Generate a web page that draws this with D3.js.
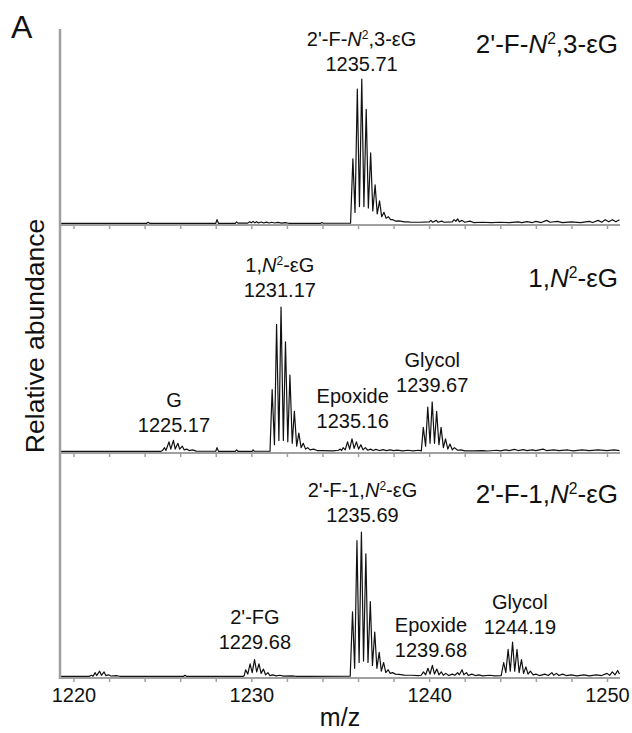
<!DOCTYPE html>
<html><head><meta charset="utf-8">
<script src="https://cdn.jsdelivr.net/npm/d3@7"></script>
<style>body{margin:0;background:#fff}svg{display:block;font-family:"Liberation Sans",Arial,sans-serif}</style>
</head><body><svg id="c" width="632" height="733"></svg>
<script>
// ---- data (m/z, relative intensity; 100 = tallest peak in each panel) ----
const panelNames = ["2'-F-N2,3-εG", "1,N2-εG", "2'-F-1,N2-εG"];
const topSpectrum = [[1219.3,0.4],[1224.1,0.4],[1224.2,1.2],[1224.3,0.4],[1228.0,0.4],[1228.07,3],[1228.15,0.5],[1229.1,0.5],[1229.17,1.5],[1229.25,0.6],[1229.8,0.6],[1229.9,1.5],[1230.0,0.8],[1230.1,1.8],[1230.2,0.8],[1230.3,1.6],[1230.4,0.7],[1230.55,1.4],[1230.7,0.7],[1230.85,1.3],[1231.0,0.7],[1231.15,1.2],[1231.3,0.7],[1231.5,1.1],[1231.7,0.6],[1231.9,1],[1232.1,0.5],[1233.9,0.5],[1233.97,1],[1234.05,0.5],[1235.58,0.6],
[1235.71,45],[1235.83,8],[1235.96,93],[1236.08,12],[1236.21,100],[1236.33,12],[1236.46,79],[1236.58,11],[1236.71,49],[1236.83,9],[1236.96,27],[1237.08,7],[1237.21,16],[1237.33,5],[1237.46,8],[1237.58,4],[1237.71,5],[1237.83,3],[1237.96,3],[1238.1,2],[1238.3,2.2],[1238.6,1.5],
[1238.8,1.5],[1239.0,1.2],[1239.5,1.2],[1240.0,1.4],[1240.1,2.5],[1240.2,1.2],[1240.4,2.5],[1240.5,1.2],[1240.7,2],[1240.85,1.2],[1241.3,1.5],[1241.4,3],[1241.5,1.8],[1241.6,3.5],[1241.7,1.5],[1241.85,2.5],[1242.0,1.2],[1242.3,2],[1242.5,1],[1243,1.2],[1243.5,0.9],[1244,1.2],[1244.5,1],[1245,1.5],[1245.2,0.9],[1245.5,1.6],[1245.8,1],[1246,1.8],[1246.3,1],[1246.6,2.5],[1246.8,1.2],[1247.2,1.8],[1247.5,1],[1248,1.5],[1248.5,1],[1249,1.8],[1249.2,1],[1249.5,2.5],[1249.7,1.2],[1249.9,3],[1250.1,1.5],[1250.3,3],[1250.5,1.5],[1250.7,3]];
const midSpectrum = [[1219.3,0.4],[1224.9,0.4],[1225.0,1],[1225.12,3],[1225.2,1],[1225.37,7],[1225.47,2],[1225.62,8],[1225.72,2],[1225.87,6],[1225.97,2],[1226.12,4],[1226.22,1.5],[1226.37,2],[1226.5,1],[1226.7,1.5],[1226.9,0.6],[1228.0,0.5],[1228.07,3],[1228.15,0.5],[1229.1,0.5],[1229.17,1.5],[1229.25,0.5],[1230.05,0.5],[1230.1,1.5],[1230.17,0.5],[1231.05,0.6],
[1231.17,43],[1231.3,5],[1231.42,88],[1231.55,8],[1231.67,100],[1231.8,8],[1231.92,76],[1232.05,7],[1232.17,53],[1232.3,6],[1232.42,28],[1232.55,4],[1232.67,13],[1232.8,3],[1232.92,6],[1233.05,2],[1233.17,3],[1233.3,1.5],[1233.5,2],[1233.7,1],[1234.0,1],[1234.6,0.8],
[1234.9,1.2],[1235.0,2],[1235.08,1],[1235.16,3],[1235.28,1.5],[1235.41,7],[1235.53,2],[1235.66,9],[1235.78,2.5],[1235.91,7],[1236.03,2],[1236.16,5],[1236.28,1.5],[1236.41,3],[1236.55,1.2],[1236.7,2],[1236.85,1],[1237.0,1.8],[1237.2,1],[1237.4,1.6],[1237.6,0.9],[1237.8,1.5],[1238.0,0.9],[1238.2,1.3],[1238.5,0.8],[1238.8,1.2],[1239.1,0.8],[1239.4,1.2],[1239.56,0.8],
[1239.67,17],[1239.8,4],[1239.92,31],[1240.05,6],[1240.17,34.5],[1240.3,6],[1240.42,28],[1240.55,5],[1240.67,17],[1240.8,3],[1240.92,9],[1241.05,2],[1241.17,5.5],[1241.3,1.5],[1241.42,3],[1241.6,1.2],[1241.8,1.5],[1242,0.8],[1242.5,0.8],[1243,1],[1243.3,0.7],[1243.8,1.2],[1244.0,0.8],[1244.3,1.5],[1244.5,0.9],[1244.8,1.8],[1245.0,1],[1245.3,1.6],[1245.5,0.9],[1245.8,1.5],[1246,0.9],[1246.4,2],[1246.6,1],[1247,1.5],[1247.3,0.9],[1247.8,1.4],[1248.1,0.8],[1248.6,1.4],[1249,0.9],[1249.5,1.4],[1250,0.9],[1250.4,1.5],[1250.7,1]];
const botSpectrum = [[1219.3,0.4],[1220.9,0.5],[1221.0,1.2],[1221.1,0.6],[1221.22,3],[1221.3,1],[1221.47,4],[1221.57,1.2],[1221.72,3.5],[1221.82,1],[1221.97,1.5],[1222.1,0.7],[1222.4,1],[1222.6,0.5],[1226.2,0.5],[1226.27,1.2],[1226.35,0.5],[1229.55,0.5],
[1229.6,1],[1229.68,5],[1229.8,2],[1229.93,9],[1230.05,3],[1230.18,12],[1230.3,3.5],[1230.43,9],[1230.55,2.5],[1230.68,5.5],[1230.8,1.5],[1230.93,3],[1231.05,1],[1231.2,1.5],[1231.4,0.8],[1231.6,1.2],[1231.8,0.6],[1232.3,0.8],[1232.5,0.5],[1233,0.5],[1235.56,0.6],
[1235.69,45],[1235.81,6],[1235.94,94],[1236.06,10],[1236.19,100],[1236.31,11],[1236.44,85],[1236.56,10],[1236.69,52],[1236.81,8],[1236.94,31],[1237.06,6],[1237.19,17],[1237.31,4],[1237.44,10],[1237.56,3],[1237.69,5],[1237.81,2.5],[1237.94,3],[1238.1,2],[1238.3,1.8],[1238.6,1.3],[1239.0,1.2],[1239.4,1],[1239.55,1.2],
[1239.68,3.5],[1239.8,1.5],[1239.93,6],[1240.05,2],[1240.18,8],[1240.3,2],[1240.43,5.5],[1240.55,1.5],[1240.68,3.5],[1240.8,1.2],[1240.93,2.5],[1241.1,1],[1241.3,2],[1241.45,1.2],[1241.6,3],[1241.7,1.5],[1241.85,5],[1241.95,1.5],[1242.1,3],[1242.2,1],[1242.4,2],[1242.6,1],[1242.8,1.5],[1243.0,0.8],[1243.4,1.2],[1243.7,0.8],[1244.05,1],
[1244.19,10],[1244.31,3],[1244.44,19],[1244.56,4],[1244.69,24],[1244.81,4],[1244.94,19],[1245.06,3],[1245.19,12],[1245.31,2.5],[1245.44,7],[1245.56,2],[1245.69,4],[1245.85,1.5],[1246.0,2],[1246.2,1],[1246.5,2],[1246.7,1],[1246.9,3],[1247.0,1.2],[1247.15,2.5],[1247.3,1],[1247.5,2],[1247.7,1],[1248,1.5],[1248.3,0.8],[1248.7,1.5],[1249,0.8],[1249.4,1.5],[1249.7,1],[1250.0,2.5],[1250.15,1.2],[1250.3,3.5],[1250.45,1.5],[1250.6,4.5],[1250.7,2]];
const spectra = [topSpectrum, midSpectrum, botSpectrum];
// peak annotations
const peakNames  = [["2'-F-N2,3-εG"], ["G","1,N2-εG","Epoxide","Glycol"], ["2'-FG","2'-F-1,N2-εG","Epoxide","Glycol"]];
const peakMasses = [["1235.71"], ["1225.17","1231.17","1235.16","1239.67"], ["1229.68","1235.69","1239.68","1244.19"]];
const peakLabelX = [[1236.2], [1225.65,1231.6,1235.7,1240.17], [1230.2,1236.25,1240.1,1245.1]];
const peakLabelY = [[105.5], [13.8,107,16.6,41.4], [19.3,107,13.8,29.7]];
const xTicks = d3.range(1220, 1251, 2);
const xTickLabels = [1220, 1230, 1240, 1250];

// ---- layout ----
const svg = d3.select("#c");
const x = d3.scaleLinear().domain([1220, 1250]).range([73.5, 607]);
const axisLeftX = 60, axisRightX = 620;
const baselines = [224, 452, 677];
const titleY = [53, 287, 503];
const ys = baselines.map(b => d3.scaleLinear().domain([0, 100]).range([b, b - 145]));

function richText(sel, str) {
  const parts = str.split("N2");
  sel.append("tspan").text(parts[0]);
  if (parts.length > 1) {
    sel.append("tspan").attr("font-style", "italic").text("N");
    sel.append("tspan").attr("font-size", "0.6em").attr("dy", "-0.55em").text("2");
    sel.append("tspan").attr("dy", "0.33em").text(parts[1]);
  }
}

spectra.forEach((data, i) => {
  const g = svg.append("g");
  g.append("line").attr("x1", axisLeftX).attr("x2", axisRightX)
    .attr("y1", baselines[i] + 1).attr("y2", baselines[i] + 1)
    .attr("stroke", "#a0a0a0").attr("stroke-width", 2.2);
  const ax = g.append("g").attr("transform", `translate(0,${baselines[i] + 2})`)
    .call(d3.axisBottom(x).tickValues(xTicks).tickSize(3).tickFormat(""));
  ax.select(".domain").remove();
  ax.selectAll(".tick line").attr("stroke", "#a0a0a0").attr("stroke-width", 1.5);
  const line = d3.line().x(d => x(d[0])).y(d => ys[i](d[1]));
  g.append("path").datum(data).attr("d", line)
    .attr("fill", "none").attr("stroke", "#111").attr("stroke-width", 1.2).attr("stroke-linejoin", "round");
  const t = g.append("text").attr("x", 618).attr("y", titleY[i])
    .attr("text-anchor", "end").attr("font-size", 26).attr("fill", "#111");
  richText(t, panelNames[i]);
  peakNames[i].forEach((nm, j) => {
    const px = x(peakLabelX[i][j]), py = ys[i](peakLabelY[i][j]);
    const t1 = g.append("text").attr("x", px).attr("y", py - 25).attr("text-anchor", "middle")
      .attr("font-size", 20).attr("fill", "#111");
    richText(t1, nm);
    g.append("text").attr("x", px).attr("y", py).attr("text-anchor", "middle")
      .attr("font-size", 20).attr("fill", "#111").text(peakMasses[i][j]);
  });
});

svg.append("line").attr("x1", axisLeftX).attr("x2", axisLeftX).attr("y1", 29).attr("y2", 679)
  .attr("stroke", "#a0a0a0").attr("stroke-width", 2.5);

const lab = svg.append("g").attr("transform", `translate(0,${baselines[2]})`)
  .call(d3.axisBottom(x).tickValues(xTickLabels).tickSize(0).tickPadding(11).tickFormat(d3.format("d")));
lab.select(".domain").remove();
lab.selectAll("text").attr("font-size", 20).attr("fill", "#111").attr("font-family", "Liberation Sans, Arial, sans-serif");

svg.append("text").attr("x", 340).attr("y", 726).attr("text-anchor", "middle")
  .attr("font-size", 25).attr("fill", "#111").text("m/z");
svg.append("text").attr("transform", "translate(44,336) rotate(-90)").attr("text-anchor", "middle")
  .attr("font-size", 26.5).attr("fill", "#111").text("Relative abundance");
svg.append("text").attr("x", 11).attr("y", 38).attr("font-size", 32).attr("fill", "#111").text("A");
</script></body></html>
